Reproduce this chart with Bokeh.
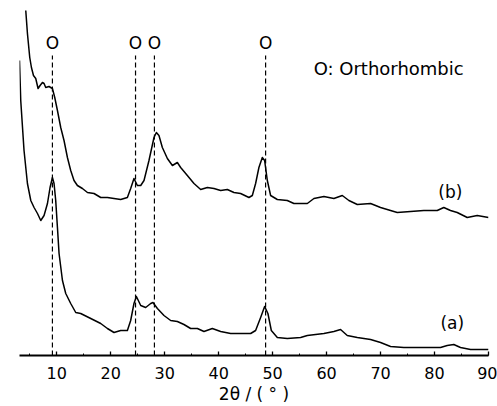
from bokeh.plotting import figure
from bokeh.models import Range1d, SingleIntervalTicker, Label
from bokeh.embed import file_html
from bokeh.resources import INLINE

# ---- data ----
two_theta_a = [3.1, 3.33, 3.94, 4.57, 5.19, 5.80, 6.43, 7.04, 7.65, 8.28, 8.76, 9.20, 9.50, 9.81,
               10.13, 10.43, 11.06, 11.67, 12.59, 13.52, 14.44, 16.30, 18.15, 19.39, 20.61, 21.85,
               23.09, 23.70, 24.31, 24.76, 25.56, 26.48, 27.41, 27.83, 28.65, 29.87, 31.11, 32.35,
               33.57, 34.81, 36.06, 37.28, 38.83, 40.37, 42.22, 44.07, 45.93, 46.85, 47.78, 48.52,
               49.13, 49.76, 50.87, 52.72, 55.19, 56.43, 59.50, 61.35, 62.59, 63.83, 65.69, 68.15,
               70.0, 71.85, 74.31, 78.02, 81.11, 82.35, 83.57, 84.81, 86.67, 88.52, 90.0]
intensity_a = [295, 255, 205, 172, 155, 148, 142, 135, 140, 152, 168, 178, 172, 155,
               128, 102, 75, 62, 52, 43, 42, 37, 32, 27, 23, 25,
               25, 35, 52, 59, 50, 48, 52, 53, 47, 40, 35, 34,
               31, 27, 27, 24, 27, 24, 22, 22, 22, 25, 38, 49,
               42, 25, 18, 17, 18, 20, 22, 24, 26, 20, 18, 16,
               13, 9, 8, 8, 8, 10, 11, 8, 6, 6, 6]

two_theta_b = [4.26, 4.57, 5.0, 5.31, 5.69, 6.11, 6.54, 6.91, 7.35, 7.65, 7.96, 8.57, 9.20, 9.63,
               10.13, 10.74, 11.35, 11.98, 12.59, 13.20, 13.83, 14.76, 15.69, 16.91, 18.15, 19.39,
               20.61, 21.85, 23.09, 23.70, 24.31, 24.94, 25.56, 26.17, 27.09, 28.02, 28.46, 28.94,
               29.57, 30.50, 31.43, 32.35, 32.96, 34.20, 35.43, 36.67, 37.91, 39.13, 40.37, 41.61,
               42.83, 44.07, 45.61, 46.24, 46.85, 47.46, 48.09, 48.52, 49.02, 49.63, 50.87, 52.72,
               53.94, 56.43, 57.65, 59.50, 61.35, 62.91, 64.13, 65.69, 68.15, 70.0, 71.85, 73.09,
               75.56, 78.02, 80.50, 81.72, 82.96, 84.20, 86.06, 87.91, 90.0]
intensity_b = [345, 322, 298, 288, 280, 277, 267, 270, 273, 272, 268, 269, 267, 258,
               245, 228, 215, 198, 185, 175, 170, 167, 163, 162, 158, 158,
               157, 156, 158, 167, 177, 170, 170, 175, 195, 218, 223, 220,
               208, 197, 190, 193, 188, 180, 172, 166, 168, 167, 165, 166,
               163, 162, 158, 160, 172, 188, 198, 195, 175, 160, 156, 155,
               152, 152, 157, 159, 157, 160, 155, 151, 152, 148, 145, 143,
               144, 145, 145, 148, 145, 143, 138, 140, 138]

orthorhombic_peaks = [9.2, 24.6, 28.1, 48.7]
peak_marks = ["O", "O", "O", "O"]
curve_names = ["(a)", "(b)"]

FONT = "DejaVu Sans"

p = figure(width=497, height=406, output_backend="svg", toolbar_location=None,
           x_range=Range1d(3.1, 90), y_range=Range1d(0, 355),
           y_axis_location=None, min_border_left=19, min_border_right=9,
           min_border_top=0, min_border_bottom=51)
p.outline_line_color = None
p.grid.visible = False
p.background_fill_color = "white"
p.border_fill_color = "white"

ax = p.xaxis[0]
ax.ticker = SingleIntervalTicker(interval=10, num_minor_ticks=2)
ax.axis_line_width = 1.8
ax.axis_line_color = "black"
ax.major_tick_in = 4
ax.major_tick_out = 0
ax.minor_tick_in = 2
ax.minor_tick_out = 0
ax.major_tick_line_width = 1.3
ax.minor_tick_line_width = 1.0
ax.major_label_text_font = FONT
ax.major_label_text_font_size = "16px"
ax.major_label_text_color = "black"
ax.major_label_standoff = 11
ax.axis_label = "2θ / ( ° )"
ax.axis_label_text_font = FONT
ax.axis_label_text_font_size = "17px"
ax.axis_label_text_font_style = "normal"
ax.axis_label_text_color = "black"
ax.axis_label_standoff = 2

# dashed reference lines
p.segment(x0=orthorhombic_peaks, y0=[0] * 4, x1=orthorhombic_peaks, y1=[300] * 4,
          line_color="black", line_width=1.2, line_dash="5 3")
p.text(x=orthorhombic_peaks, y=[313] * 4, text=peak_marks, text_align="center",
       text_baseline="middle", text_font={"value": FONT}, text_font_size="17px", text_color="black")

p.line(two_theta_a, intensity_a, line_color="black", line_width=1.5, line_join="round")
p.line(two_theta_b, intensity_b, line_color="black", line_width=1.5, line_join="round")

p.add_layout(Label(x=57.6, y=287, text="O: Orthorhombic", text_font=FONT, text_font_size="18px",
                   text_baseline="middle", text_color="black"))
p.add_layout(Label(x=81.1, y=33, text=curve_names[0], text_font=FONT, text_font_size="17px",
                   text_baseline="middle", text_color="black"))
p.add_layout(Label(x=80.7, y=164, text=curve_names[1], text_font=FONT, text_font_size="17px",
                   text_baseline="middle", text_color="black"))

open("out.html", "w").write(file_html(p, INLINE))
